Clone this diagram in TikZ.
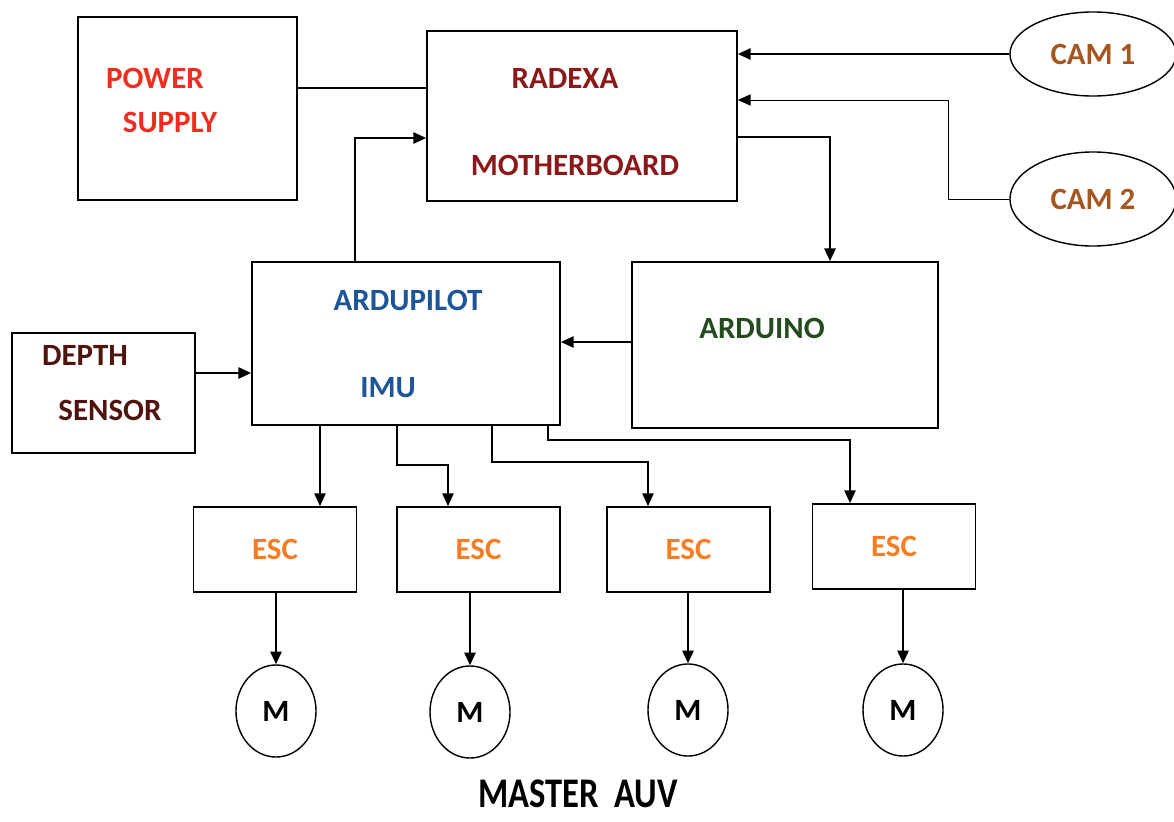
\documentclass[tikz,border=0pt]{standalone}
\usepackage{fontspec}
\setmainfont{Carlito}
\usepackage{xcolor}
\usepackage{tikz}
\usetikzlibrary{arrows.meta, shapes.geometric, calc}
\definecolor{psured}{RGB}{240, 45, 30}
\definecolor{boardred}{RGB}{140, 25, 25}
\definecolor{camorange}{RGB}{165, 85, 30}
\definecolor{pilotblue}{RGB}{30, 85, 150}
\definecolor{duinogreen}{RGB}{35, 75, 30}
\definecolor{depthbrown}{RGB}{80, 20, 15}
\definecolor{escorange}{RGB}{245, 125, 35}

\begin{document}
\begin{tikzpicture}[
  x=0.025cm, y=-0.025cm,
  every node/.style={inner sep=0pt, font=\fontsize{22}{26}\selectfont\bfseries},
  box/.style={draw, line width=1.2pt},
  escbox/.style={draw, line width=1.2pt, minimum width=4.08cm, minimum height=2.13cm,
                 text=escorange},
  motor/.style={draw, ellipse, line width=1pt, minimum width=2.0cm, minimum height=2.3cm},
  cam/.style={draw, ellipse, line width=1pt, minimum width=4.15cm, text=camorange},
  wire/.style={line width=1.2pt},
  arrow/.style={wire, -{Triangle[length=9pt, width=8pt]}}
]
\useasboundingbox (0,0) rectangle (1174,821);

% Top row: power supply, motherboard, cameras
\node[box, minimum width=5.48cm, minimum height=4.58cm] (psu) at (187.5,108.5) {};
\node[text=psured] (psutop) at (155,78) {POWER};
\node[text=psured] (psubot) at (170,122) {SUPPLY};

\node[box, minimum width=7.75cm, minimum height=4.25cm] (radexa) at (582,116) {};
\node[text=boardred] (radexatop) at (565,78) {RADEXA};
\node[text=boardred] (radexabot) at (575,165) {MOTHERBOARD};

\node[cam, minimum height=2.1cm] (cam1) at (1093,54) {CAM 1};
\node[cam, minimum height=2.35cm] (cam2) at (1093,199) {CAM 2};

% Middle row: sensor, autopilot, arduino
\node[box, minimum width=4.58cm, minimum height=3.0cm] (depth) at (103.5,393) {};
\node[text=depthbrown] (depthtop) at (85,355) {DEPTH};
\node[text=depthbrown] (depthbot) at (110,410) {SENSOR};

\node[box, minimum width=7.7cm, minimum height=4.08cm] (ardupilot) at (406,343.5) {};
\node[text=pilotblue] (pilottop) at (408,300) {ARDUPILOT};
\node[text=pilotblue] (pilotbot) at (388,388) {IMU};

\node[box, minimum width=7.65cm, minimum height=4.15cm] (arduino) at (785,345) {};
\node[text=duinogreen] (duinotxt) at (762,328) {ARDUINO};

% ESC row
\node[escbox] (esc1) at (275,549.5) {ESC};
\node[escbox] (esc2) at (478.5,549.5) {ESC};
\node[escbox] (esc3) at (688.5,549.5) {ESC};
\node[escbox] (esc4) at (894,546.5) {ESC};

% Motors
\node[motor] (m1) at (276,711) {M};
\node[motor] (m2) at (470,712) {M};
\node[motor] (m3) at (688,710) {M};
\node[motor] (m4) at (903,710) {M};

\node[font=\fontsize{30}{34}\selectfont\bfseries] (title) at (578,794) {\scalebox{0.82}[1]{MASTER\ \ AUV}};

% Connections
\draw[wire] (psu.east |- 0,88) -- (radexa.west |- 0,88);
\draw[arrow] (ardupilot.north -| 355,0) |- (radexa.west |- 0,138);
\draw[arrow] (cam1.west) -- (radexa.east |- cam1.west);
\draw[arrow, line width=0.6pt] (cam2.west) -| (948,100) -- (radexa.east |- 0,100);
\draw[arrow] (radexa.east |- 0,137) -| (arduino.north -| 830,0);
\draw[arrow] (arduino.west |- 0,342) -- (ardupilot.east |- 0,342);
\draw[arrow] (depth.east |- 0,373) -- (ardupilot.west |- 0,373);

\draw[arrow] (ardupilot.south -| 320,0) -- (esc1.north -| 320,0);
\draw[arrow] (ardupilot.south -| 397,0) |- (448,465) -- (esc2.north -| 448,0);
\draw[arrow] (ardupilot.south -| 492,0) |- (648,462) -- (esc3.north -| 648,0);
\draw[arrow] (ardupilot.south -| 548,0) |- (850,440) -- (esc4.north -| 850,0);

\draw[arrow] (esc1.south -| m1.north) -- (m1.north);
\draw[arrow] (esc2.south -| m2.north) -- (m2.north);
\draw[arrow] (esc3.south -| m3.north) -- (m3.north);
\draw[arrow] (esc4.south -| m4.north) -- (m4.north);

\end{tikzpicture}
\end{document}
